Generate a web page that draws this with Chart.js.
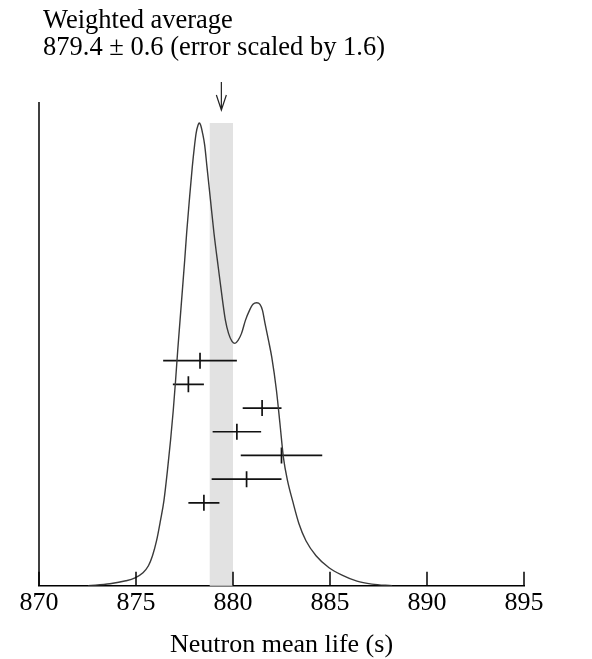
<!DOCTYPE html>
<html>
<head>
<meta charset="utf-8">
<script src="https://cdn.jsdelivr.net/npm/chart.js@4.4.1/dist/chart.umd.min.js"></script>
<style>
  html, body { margin: 0; padding: 0; background: #fff; }
  #wrap { width: 592px; height: 659px; position: relative; }
</style>
</head>
<body>
<div id="wrap"><canvas id="c"></canvas></div>
<script>
// ---- data ----
const xTicks = [870, 875, 880, 885, 890, 895];

// ideogram curve (neutron mean life in s, height in arbitrary units)
const curveX = [872.53, 873.66, 874.48, 874.95, 875.36, 875.64, 875.85, 876.06, 876.26, 876.44,
                876.62, 876.78, 876.92, 877.04, 877.15, 877.27, 877.39, 877.51, 877.61, 877.75,
                877.90, 878.02, 878.10, 878.20, 878.26, 878.33, 878.43, 878.54, 878.66, 878.84,
                879.02, 879.24, 879.46, 879.61, 879.77, 879.95, 880.10, 880.26, 880.44, 880.64,
                880.85, 881.03, 881.22, 881.39, 881.52, 881.65, 881.83, 882.00, 882.24, 882.42,
                882.60, 882.81, 883.07, 883.40, 883.76, 884.28, 884.95, 885.62, 886.39, 887.16,
                888.20];
const curveY = [0, 0.41, 1.03, 1.65, 2.68, 4.12, 6.19, 9.28, 13.40, 17.53,
                23.71, 29.90, 36.08, 42.27, 48.45, 54.64, 60.82, 67.01, 72.58, 79.38,
                86.19, 90.72, 93.20, 94.85, 95.26, 94.85, 93.20, 90.72, 86.19, 79.38,
                72.58, 65.57, 58.76, 54.64, 51.96, 50.31, 49.90, 50.52, 51.96, 54.64,
                56.70, 57.94, 58.25, 57.94, 56.70, 54.02, 50.52, 47.01, 40.21, 33.40,
                26.39, 21.65, 17.53, 12.78, 9.28, 6.19, 3.71, 2.2, 0.95, 0.35,
                0];

// measurements (top to bottom)
const measValues = [878.3, 877.7, 881.5, 880.2, 882.5, 880.7, 878.5];
const measErrors = [1.9, 0.8, 1.0, 1.25, 2.1, 1.8, 0.8];
const measRows   = [0, 1, 2, 3, 4, 5, 6];

const avgValue = 879.4;
const avgError = 0.6;
const titleLine1 = 'Weighted average';
const titleLine2 = '879.4 \u00B1 0.6 (error scaled by 1.6)';
const axisTitle = 'Neutron mean life (s)';

// ---- build datasets ----
const SERIF = '"Liberation Serif", "DejaVu Serif", serif';
const curveData = curveX.map((x, i) => ({ x: x, y: curveY[i] }));

const datasets = [];
datasets.push({
  type: 'line',
  data: curveData,
  yAxisID: 'y',
  showLine: true,
  borderColor: '#3a3a3a',
  borderWidth: 1.4,
  pointRadius: 0,
  fill: false,
  cubicInterpolationMode: 'monotone'
});
measValues.forEach((v, i) => {
  datasets.push({
    type: 'line',
    data: [{ x: v - measErrors[i], y: measRows[i] }, { x: v + measErrors[i], y: measRows[i] }],
    yAxisID: 'yRows',
    showLine: true,
    borderColor: '#111',
    borderWidth: 1.7,
    pointRadius: 0,
    fill: false
  });
});
datasets.push({
  type: 'scatter',
  data: measValues.map((v, i) => ({ x: v, y: measRows[i] })),
  yAxisID: 'yRows',
  pointStyle: 'line',
  rotation: 90,
  radius: 8,
  pointRadius: 8,
  borderColor: '#111',
  borderWidth: 1.7,
  backgroundColor: '#111'
});

const decor = {
  id: 'decor',
  beforeDatasetsDraw(chart) {
    const ctx = chart.ctx;
    const xs = chart.scales.x, ys = chart.scales.y;
    const bx0 = xs.getPixelForValue(avgValue - avgError);
    const bx1 = xs.getPixelForValue(avgValue + avgError);
    const btop = ys.getPixelForValue(Math.max(...curveY));
    ctx.save();
    ctx.fillStyle = '#e2e2e2';
    ctx.fillRect(bx0, btop, bx1 - bx0, ys.getPixelForValue(0) - btop);
    ctx.restore();
  },
  afterDraw(chart) {
    const ctx = chart.ctx;
    const xs = chart.scales.x;
    const a = chart.chartArea;
    ctx.save();
    // left axis line
    ctx.strokeStyle = '#000';
    ctx.lineWidth = 1.5;
    ctx.beginPath();
    ctx.moveTo(a.left, a.top + 2);
    ctx.lineTo(a.left, a.bottom);
    ctx.stroke();
    // upward tick marks
    xTicks.forEach(t => {
      const px = xs.getPixelForValue(t);
      ctx.beginPath();
      ctx.moveTo(px, a.bottom);
      ctx.lineTo(px, a.bottom - 14);
      ctx.stroke();
    });
    // arrow pointing at average
    const ax = xs.getPixelForValue(avgValue);
    ctx.strokeStyle = '#222';
    ctx.lineWidth = 1.2;
    ctx.beginPath();
    ctx.moveTo(ax, 82);
    ctx.lineTo(ax, 110);
    ctx.moveTo(ax - 5, 95);
    ctx.lineTo(ax, 110);
    ctx.lineTo(ax + 5, 95);
    ctx.stroke();
    // title text
    ctx.fillStyle = '#000';
    ctx.font = '26.5px ' + SERIF;
    ctx.textBaseline = 'alphabetic';
    ctx.textAlign = 'left';
    ctx.fillText(titleLine1, 43, 28);
    ctx.fillText(titleLine2, 43, 55);
    ctx.restore();
  }
};

new Chart(document.getElementById('c'), {
  type: 'scatter',
  data: { datasets: datasets },
  options: {
    responsive: true,
    maintainAspectRatio: false,
    animation: false,
    layout: { padding: { left: 39, right: 68, top: 100, bottom: 1 } },
    plugins: { legend: { display: false }, tooltip: { enabled: false } },
    scales: {
      x: {
        type: 'linear',
        min: 870, max: 895,
        afterBuildTicks: s => { s.ticks = xTicks.map(v => ({ value: v })); },
        ticks: {
          color: '#000',
          font: { family: SERIF, size: 26 },
          padding: 2,
          maxRotation: 0,
          autoSkip: false,
          callback: v => String(v)
        },
        grid: { display: false, drawTicks: false },
        border: { display: true, color: '#000', width: 1.5 },
        title: {
          display: true,
          text: axisTitle,
          color: '#000',
          font: { family: SERIF, size: 26, lineHeight: 1.0 },
          padding: { top: 11, bottom: 0 }
        }
      },
      y: { type: 'linear', min: 0, max: 100, display: false },
      yRows: { type: 'linear', min: -11, max: 9.5, reverse: true, display: false }
    }
  },
  plugins: [decor]
});
</script>
</body>
</html>
